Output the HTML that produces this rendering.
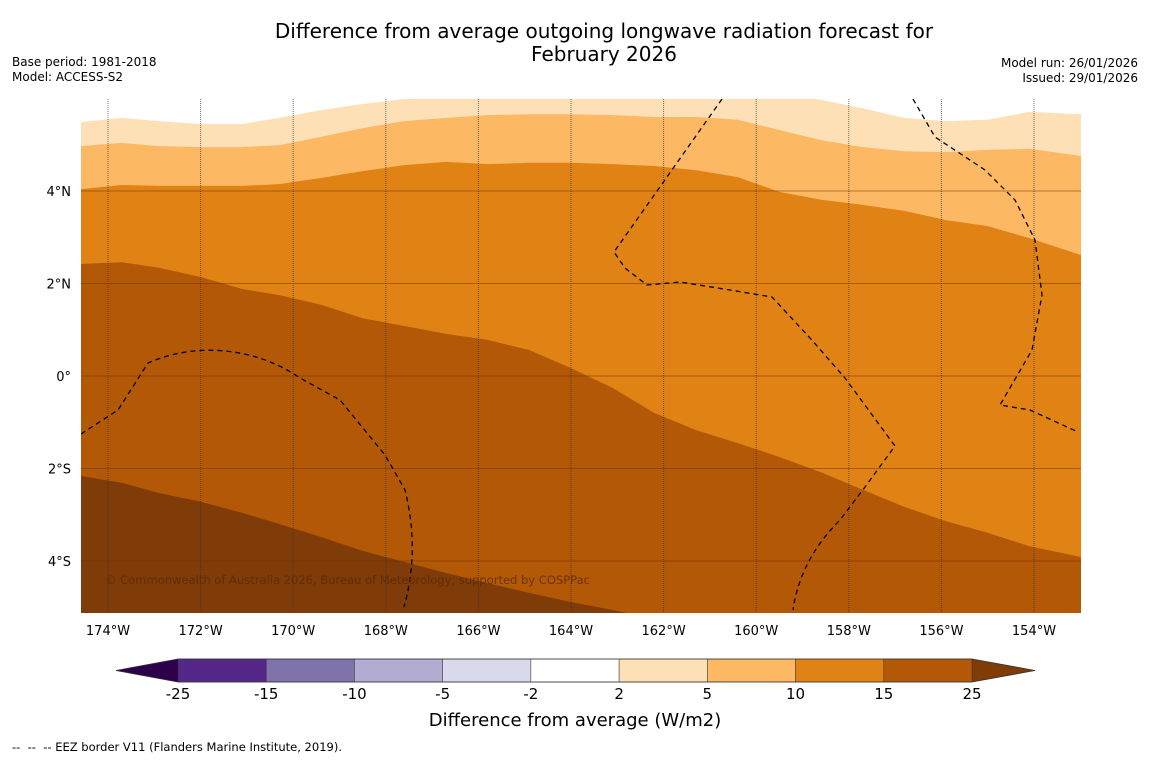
<!DOCTYPE html>
<html><head><meta charset="utf-8"><style>
body{margin:0;background:#fff;font-family:"Liberation Sans","DejaVu Sans",sans-serif;}
svg text{font-family:"DejaVu Sans","Liberation Sans",sans-serif;}
</style></head><body>
<svg id="chart" width="1150" height="758" viewBox="0 0 1150 758" xmlns="http://www.w3.org/2000/svg">
<rect width="1150" height="758" fill="#fff"/>
<text x="604" y="38" font-size="20" text-anchor="middle" fill="#000">Difference from average outgoing longwave radiation forecast for</text>
<text x="604" y="61" font-size="20" text-anchor="middle" fill="#000">February 2026</text>
<text x="12" y="66" font-size="12">Base period: 1981-2018</text>
<text x="12" y="81" font-size="12">Model: ACCESS-S2</text>
<text x="1138" y="67" font-size="12" text-anchor="end">Model run: 26/01/2026</text>
<text x="1138" y="82" font-size="12" text-anchor="end">Issued: 29/01/2026</text>
<defs><clipPath id="mapclip"><rect x="81" y="99" width="1000" height="514"/></clipPath></defs>
<g id="map" clip-path="url(#mapclip)"></g>
<g id="axes"></g>
<g id="cbar"></g>
<text x="575" y="726" font-size="18" text-anchor="middle">Difference from average (W/m2)</text>
<text x="12" y="751" font-size="11.5" textLength="330" lengthAdjust="spacingAndGlyphs" xml:space="preserve">--  --  -- EEZ border V11 (Flanders Marine Institute, 2019).</text>
</svg>
<script>
const lons=[-174.6,-173.7,-172.9,-172.0,-171.1,-170.3,-169.4,-168.5,-167.6,-166.7,-165.8,-164.9,-164.0,-163.1,-162.2,-161.3,-160.4,-159.5,-158.6,-157.7,-156.8,-155.9,-155.0,-154.1,-153.0];
const contour2=[5.49,5.58,5.51,5.45,5.45,5.58,5.75,5.88,5.99,6.08,6.1,6.1,6.1,6.1,6.1,6.1,6.1,6.1,5.97,5.79,5.58,5.51,5.54,5.71,5.66];
const contour5=[4.97,5.04,4.97,4.95,4.95,4.99,5.17,5.36,5.51,5.58,5.64,5.66,5.66,5.64,5.60,5.60,5.54,5.32,5.10,4.95,4.86,4.84,4.89,4.91,4.76];
const contour10=[4.04,4.13,4.11,4.11,4.11,4.15,4.28,4.43,4.56,4.63,4.58,4.61,4.61,4.58,4.54,4.45,4.30,3.98,3.81,3.70,3.57,3.37,3.24,2.98,2.62];
const contour15=[2.42,2.46,2.34,2.14,1.88,1.75,1.54,1.25,1.08,0.91,0.78,0.56,0.17,-0.26,-0.80,-1.17,-1.45,-1.75,-2.08,-2.46,-2.83,-3.14,-3.39,-3.68,-3.91];
const contour25=[-2.16,-2.31,-2.53,-2.72,-2.96,-3.20,-3.48,-3.78,-4.02,-4.26,-4.48,-4.69,-4.89,-5.06,-5.25,-5.6,-5.6,-5.6,-5.6,-5.6,-5.6,-5.6,-5.6,-5.6,-5.6];
const lonTicks=[-174,-172,-170,-168,-166,-164,-162,-160,-158,-156,-154];
const latTicks=[4,2,0,-2,-4];
const latLabels=["4°N","2°N","0°","2°S","4°S"];
const cbarLevels=[-25,-15,-10,-5,-2,2,5,10,15,25];
const cbarColors=["#542788","#8073ac","#b2abd2","#d8daeb","#ffffff","#fee0b6","#fdb863","#e08214","#b35806"];

const NS="http://www.w3.org/2000/svg";
const X=lon=>108+(lon+174)*46.3;
const Y=lat=>376-lat*46.25;
function mk(tag,attrs,parent){const e=document.createElementNS(NS,tag);for(const k in attrs)e.setAttribute(k,attrs[k]);parent.appendChild(e);return e;}
const map=document.getElementById('map');
const bg=mk('rect',{x:81,y:99,width:1000,height:514,fill:'#7f3b08'},map);


function band(arr,color,name){
  let d='M'+X(lons[0]-1)+','+Y(8);
  lons.forEach((l,i)=>{d+=' L'+X(l)+','+Y(arr[i]);});
  d+=' L'+X(lons[lons.length-1]+1)+','+Y(arr[arr.length-1])+' L'+X(lons[lons.length-1]+1)+','+Y(8)+'Z';
  const p=mk('path',{d:d,fill:color},map);
  
  
}
band(contour25,'#b35806','band-15-25');
band(contour15,'#e08214','band-10-15');
band(contour10,'#fdb863','band-5-10');
band(contour5,'#fee0b6','band-2-5');
band(contour2,'#ffffff','band-neutral');
latTicks.forEach(lt=>{
  const g=mk('line',{x1:81,x2:1081,y1:Y(lt),y2:Y(lt),stroke:'#6b3200','stroke-opacity':0.5,'stroke-width':1},map);
  
  
});
lonTicks.forEach(ln=>{
  const g=mk('line',{x1:X(ln),x2:X(ln),y1:99,y2:613,stroke:'#333','stroke-opacity':0.7,'stroke-width':1,'stroke-dasharray':'1,1'},map);
  
  
});
["M81,434 L118,410 L148,363 C200,340 260,350 300,378 L340,400 L385,455 L405,490 Q420,550 404,607",
 "M722,99 L614,252 L625,268 L647,285 L680,282 L730,290 L772,297 L810,338 L845,378 L895,446 L865,487 L840,520 Q800,560 793,610",
 "M913,99 L935,137 L985,170 L1015,200 L1035,240 L1042,295 L1032,350 L1000,405 L1030,410 L1078,432"].forEach(d=>{
  const p=mk('path',{d:d,fill:'none',stroke:'#000','stroke-width':1.3,'stroke-dasharray':'5,4'},map);
  
  
});
const cp=mk('text',{x:105,y:584,'font-size':11.5,fill:'#5a2a05','fill-opacity':0.8,textLength:485,lengthAdjust:'spacingAndGlyphs'},map);
cp.textContent='© Commonwealth of Australia 2026, Bureau of Meteorology, supported by COSPPac';


const axes=document.getElementById('axes');
lonTicks.forEach(ln=>{
  const t=mk('text',{x:X(ln),y:635,'font-size':13,'text-anchor':'middle'},axes);
  t.textContent=Math.abs(ln)+'°W';
  
  
});
latTicks.forEach((lt,i)=>{
  const t=mk('text',{x:71,y:Y(lt)+5,'font-size':13,'text-anchor':'end'},axes);
  t.textContent=latLabels[i];
  
  
});
const cb=document.getElementById('cbar');
const cx0=178,cx1=972,cy=659,ch=23;
const seg=(cx1-cx0)/cbarColors.length;
const l=mk('polygon',{points:`116,670.5 ${cx0},${cy} ${cx0},${cy+ch}`,fill:'#2d004b'},cb);


const r=mk('polygon',{points:`1035,670.5 ${cx1},${cy} ${cx1},${cy+ch}`,fill:'#7f3b08'},cb);


cbarColors.forEach((c,i)=>{
  const s=mk('rect',{x:cx0+i*seg,y:cy,width:seg,height:ch,fill:c,stroke:'#333','stroke-width':0.5},cb);
  
  
});
mk('polygon',{points:`116,670.5 ${cx0},${cy} ${cx1},${cy} 1035,670.5 ${cx1},${cy+ch} ${cx0},${cy+ch}`,fill:'none',stroke:'#333','stroke-width':0.8},cb);
cbarLevels.forEach((v,i)=>{
  const t=mk('text',{x:cx0+i*seg,y:699,'font-size':15,'text-anchor':'middle'},cb);
  t.textContent=v;
  
  
});
</script>
</body></html>
